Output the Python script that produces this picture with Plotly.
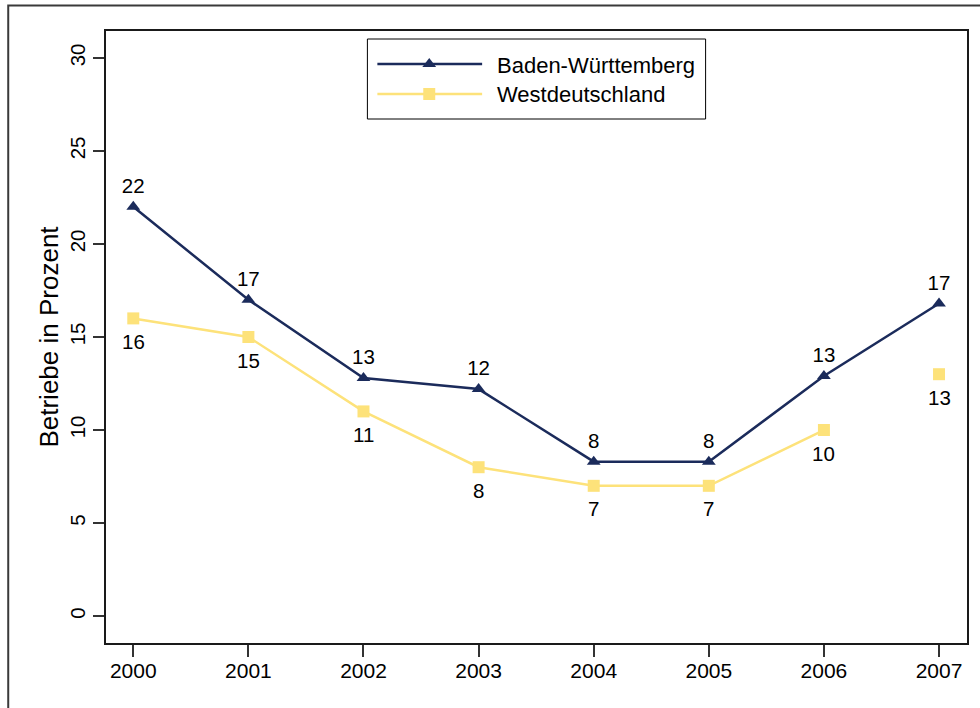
import plotly.graph_objects as go

# ---- data ----
years = [2000, 2001, 2002, 2003, 2004, 2005, 2006, 2007]
bw_values = [22.0, 17.0, 12.8, 12.2, 8.3, 8.3, 12.9, 16.8]
bw_labels = ["22", "17", "13", "12", "8", "8", "13", "17"]
west_values = [16.0, 15.0, 11.0, 8.0, 7.0, 7.0, 10.0, 13.0]
west_labels = ["16", "15", "11", "8", "7", "7", "10", "13"]
y_ticks = [0, 5, 10, 15, 20, 25, 30]
series_names = ["Baden-Württemberg", "Westdeutschland"]

NAVY = "#1b2b5b"
YELLOW = "#fde27a"
FONT = "Arial, Liberation Sans, sans-serif"

W, H = 980, 708
L, T, R, B = 106, 31, 969, 643   # plot area in pixels
PW, PH = R - L, B - T


def px(x):
    return (x - L) / PW


def py(y):
    return (B - y) / PH


fig = go.Figure()

# Baden-Württemberg
fig.add_trace(go.Scatter(
    x=years, y=bw_values, mode="lines+markers+text", name=series_names[0],
    line=dict(color=NAVY, width=2.5),
    marker=dict(symbol="triangle-up", size=12, color=NAVY),
    text=bw_labels, textposition="top center",
    textfont=dict(family=FONT, size=20.5, color="black"),
    showlegend=False, cliponaxis=False,
))

# Westdeutschland (line 2000-2006, single point 2007)
fig.add_trace(go.Scatter(
    x=years[:7], y=west_values[:7], mode="lines+markers", name=series_names[1],
    line=dict(color=YELLOW, width=2.5),
    marker=dict(symbol="square", size=12, color=YELLOW),
    showlegend=False, cliponaxis=False,
))
fig.add_trace(go.Scatter(
    x=years[7:], y=west_values[7:], mode="markers", name=series_names[1],
    marker=dict(symbol="square", size=12, color=YELLOW),
    showlegend=False, cliponaxis=False,
))

annotations = []
for xv, yv, lab in zip(years, west_values, west_labels):
    annotations.append(dict(x=xv, y=yv, xref="x", yref="y", text=lab,
                            showarrow=False, yshift=-23, xanchor="center", yanchor="middle",
                            font=dict(family=FONT, size=20.5, color="black")))

shapes = []
# outer frame
shapes.append(dict(type="rect", xref="paper", yref="paper",
                   x0=px(8), x1=px(1000), y0=py(730), y1=py(5.5),
                   line=dict(color="#3a3a3a", width=2), fillcolor="rgba(0,0,0,0)", layer="below"))

# legend box
shapes.append(dict(type="rect", xref="paper", yref="paper",
                   x0=px(368), x1=px(707), y0=py(119), y1=py(39),
                   line=dict(color="black", width=1), fillcolor="white"))
# legend row 1
shapes.append(dict(type="line", xref="paper", yref="paper",
                   x0=px(378), x1=px(483), y0=py(64), y1=py(64),
                   line=dict(color=NAVY, width=2.5)))
rt = 6 * 2 / 3 ** 0.5
shapes.append(dict(type="path", xref="paper", yref="paper",
                   path=f"M{px(430 - rt)},{py(67)} L{px(430 + rt)},{py(67)} L{px(430)},{py(58)} Z",
                   line=dict(color=NAVY, width=0), fillcolor=NAVY))
# legend row 2
shapes.append(dict(type="line", xref="paper", yref="paper",
                   x0=px(378), x1=px(483), y0=py(94), y1=py(94),
                   line=dict(color=YELLOW, width=2.5)))
shapes.append(dict(type="rect", xref="paper", yref="paper",
                   x0=px(424), x1=px(436), y0=py(100), y1=py(88),
                   line=dict(color=YELLOW, width=0), fillcolor=YELLOW))

annotations += [
    dict(xref="paper", yref="paper", x=px(496), y=py(65), text=series_names[0],
         showarrow=False, xanchor="left", yanchor="middle",
         font=dict(family=FONT, size=22, color="black")),
    dict(xref="paper", yref="paper", x=px(496), y=py(95), text=series_names[1],
         showarrow=False, xanchor="left", yanchor="middle",
         font=dict(family=FONT, size=22, color="black")),
]

fig.update_layout(
    width=W, height=H,
    margin=dict(l=L, r=W - R, t=T, b=H - B, pad=0),
    paper_bgcolor="white", plot_bgcolor="white",
    font=dict(family=FONT, color="black"),
    shapes=shapes, annotations=annotations,
    showlegend=False,
)

fig.update_xaxes(
    range=[1999.763, 2007.243], tickvals=years, ticktext=[str(y) for y in years],
    showgrid=False, zeroline=False,
    showline=True, mirror=True, linecolor="#1a1a1a", linewidth=2,
    ticks="outside", ticklen=12, tickwidth=1.5, tickcolor="#333",
    ticklabelstandoff=-4,
    tickfont=dict(family=FONT, size=21, color="black"),
)
fig.update_yaxes(
    range=[-1.45, 31.45], tickvals=y_ticks,
    showgrid=False, zeroline=False,
    showline=True, mirror=True, linecolor="#1a1a1a", linewidth=2,
    ticks="outside", ticklen=11, tickwidth=1.5, tickcolor="#333",
    tickangle=-90,
    tickfont=dict(family=FONT, size=20.5, color="black"),
    title=dict(text="Betriebe in Prozent", standoff=0,
               font=dict(family=FONT, size=26, color="black")),
)

fig.write_html("out.html", config={"displayModeBar": False},
               post_script="document.body.style.margin='0px';document.body.style.padding='0px';")
